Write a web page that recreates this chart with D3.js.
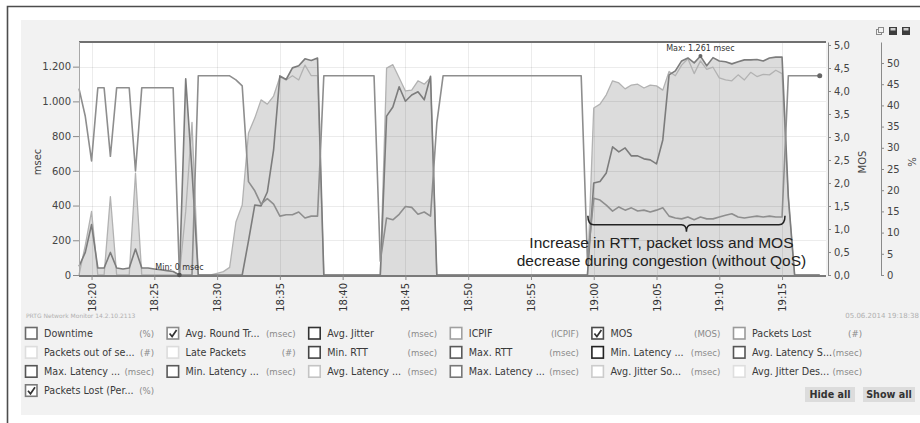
<!DOCTYPE html>
<html>
<head>
<meta charset="utf-8">
<script src="https://cdn.jsdelivr.net/npm/d3@7"></script>
<style>
  html, body { margin: 0; padding: 0; background: #fff; }
  svg { display: block; font-family: "DejaVu Sans", Verdana, sans-serif; }
</style>
</head>
<body>
<svg id="chart" width="920" height="423"></svg>
<script>
// ---- QoS sensor samples, one every 30 seconds from 18:19:00 ----
const startTime = "2014-06-05T18:19:00";
const endTime = "2014-06-05T19:18:30";
const sampleSeconds = 30;

const timeTickLabels = ["18:20", "18:25", "18:30", "18:35", "18:40", "18:45",
                        "18:50", "18:55", "19:00", "19:05", "19:10", "19:15"];
const msecTicks = [0, 200, 400, 600, 800, 1000, 1200];
const mosTicks = [0, 0.5, 1, 1.5, 2, 2.5, 3, 3.5, 4, 4.5, 5];
const pctTicks = [0, 5, 10, 15, 20, 25, 30, 35, 40, 45, 50];

// Avg. Round Trip (msec)
const rttValues = [
  50, 130, 290, 40, 40, 130, 40, 35, 40, 150,
  40, 40, 35, 30, 25, 20, 0, 1130, 600, 0,
  0, 0, 0, 0, 0, 0, 0, 196, 403, 398,
  478, 720, 1147, 1126, 1193, 1205, 1245, 1236, 1250,
  0, 0, 0, 0, 0, 0, 0, 0, 0, 0,
  915, 968, 1084, 1001, 1037, 1055, 1009, 1145,
  0, 0, 0, 0, 0, 0, 0, 0, 0, 0, 0, 0, 0, 0, 0, 0, 0, 0, 0, 0, 0, 0, 0, 0, 0,
  530, 539, 588, 738, 709, 732, 686, 686, 669, 663, 640, 778,
  1153, 1176, 1233, 1250, 1222, 1261, 1205, 1252, 1233, 1228,
  1216, 1228, 1239, 1239, 1241, 1233, 1250, 1255, 1255, 450,
  0, 0, 0, 0, 0
];

// MOS
const mosValues = [
  4.05, 3.45, 2.48, 4.07, 4.07, 2.58, 4.07, 4.07, 4.07, 2.26,
  4.07, 4.07, 4.07, 4.07, 4.07, 4.07, 0, 0, 0, 4.33,
  4.33, 4.33, 4.33, 4.33, 4.33, 4.24, 4.11, 2.03, 1.83, 1.54,
  1.66, 1.54, 1.28, 1.31, 1.31, 1.37, 1.24, 1.28, 1.28,
  4.33, 4.33, 4.33, 4.33, 4.33, 4.33, 4.33, 4.33, 4.33,
  0.3, 1.24, 1.2, 1.32, 1.49, 1.47, 1.32, 1.37, 1.28, 3.3,
  4.33, 4.33, 4.33, 4.33, 4.33, 4.33, 4.33, 4.33, 4.33, 4.33, 4.33, 4.33,
  4.33, 4.33, 4.33, 4.33, 4.33, 4.33, 4.33, 4.33, 4.33, 4.33, 4.33,
  0.3, 1.67, 1.63, 1.52, 1.39, 1.48, 1.41, 1.46, 1.39, 1.41, 1.37, 1.41, 1.46,
  1.28, 1.24, 1.22, 1.26, 1.2, 1.26, 1.22, 1.22, 1.26, 1.3,
  1.33, 1.26, 1.24, 1.26, 1.28, 1.26, 1.28, 1.26, 1.26, 4.33,
  4.33, 4.33, 4.33, 4.33, 4.33
];

// Packets Lost (%)
const lossValues = [
  0, 7, 15, 0, 0, 18.5, 0, 0, 0, 24,
  0, 0, 0, 0, 0, 0, 0,
  15, 36, 0, 0, 0, 0.4, 0.8, 1.8, 12.5, 16.5, 33.5, 37, 41.3,
  40.3, 42.2, 46.7, 46, 47, 46, 49.5, 47, 47,
  0, 0, 0, 0, 0, 0, 0, 0, 0, 0,
  48.8, 49.6, 46.5, 43.4, 43.6, 45.8, 45, 46.5,
  0, 0, 0, 0, 0, 0, 0, 0, 0, 0, 0, 0, 0, 0, 0, 0, 0, 0, 0, 0, 0, 0, 0, 0, 0,
  39.4, 40.3, 42.5, 45.8, 45.3, 43.9, 44.8, 45, 44.1, 44.8, 44.6, 43.6,
  48, 47, 49.5, 51, 47.5, 50.5, 48.5, 49, 46.5, 46,
  45.8, 47.2, 46, 47.8, 46.8, 47.3, 47.2, 48.3, 47.5, 18,
  0, 0, 0, 0, 0
];

// Channel list shown under the graph
const channelNames = [
  "Downtime", "Avg. Round Tr...", "Avg. Jitter", "ICPIF", "MOS", "Packets Lost",
  "Packets out of se...", "Late Packets", "Min. RTT", "Max. RTT", "Min. Latency ...", "Avg. Latency S...",
  "Max. Latency ...", "Min. Latency ...", "Avg. Latency ...", "Max. Latency ...", "Avg. Jitter So...", "Avg. Jitter Des...",
  "Packets Lost (Per..."
];
const channelUnits = [
  "(%)", "(msec)", "(msec)", "(ICPIF)", "(MOS)", "(#)",
  "(#)", "(#)", "(msec)", "(msec)", "(msec)", "(msec)",
  "(msec)", "(msec)", "(msec)", "(msec)", "(msec)", "(msec)",
  "(%)"
];
const channelShown = [
  false, true, false, false, true, false,
  false, false, false, false, false, false,
  false, false, false, false, false, false,
  true
];
const channelColors = [
  "#6a6a6a", "#8a8a8a", "#333333", "#a0a0a0", "#4a4a4a", "#9a9a9a",
  "#dddddd", "#dcdcdc", "#454545", "#5a5a5a", "#222222", "#555555",
  "#555555", "#5a5a5a", "#c4c4c4", "#777777", "#cccccc", "#dedede",
  "#7a7a7a"
];

const annotationLines = ["Increase in RTT, packet loss and MOS",
                         "decrease during congestion (without QoS)"];
const congestionFrom = "2014-06-05T18:59:32";
const congestionTo = "2014-06-05T19:15:14";

// ---- drawing ----
const W = 920, H = 423;
const svg = d3.select("#chart");
const plot = { left: 79, right: 826, top: 42, bottom: 275 };
const de = d3.formatLocale({ decimal: ",", thousands: ".", grouping: [3], currency: ["", "€"] });
const fmtInt = de.format(",d");
const fmt1 = de.format(".1f");

svg.append("rect").attr("width", W).attr("height", H).attr("fill", "#fff");
svg.append("rect").attr("x", 21).attr("y", 20).attr("width", W - 21).attr("height", 395)
  .attr("fill", "#f2f2f2");
svg.append("path").attr("d", "M7.5,423V6.5H920").attr("fill", "none")
  .attr("stroke", "#4d4d4d").attr("stroke-width", 1.6);

svg.append("rect").attr("x", plot.left).attr("y", plot.top)
  .attr("width", plot.right - plot.left).attr("height", plot.bottom - plot.top)
  .attr("fill", "#fff");

const x = d3.scaleTime()
  .domain([new Date(startTime), new Date(endTime)])
  .range([plot.left, plot.right]);
const yMs = d3.scaleLinear().domain([0, 1342]).range([plot.bottom, plot.top]);
const yMos = d3.scaleLinear().domain([0, 5.065]).range([plot.bottom, plot.top]);
const yPct = d3.scaleLinear().domain([0, 54.95]).range([plot.bottom, plot.top]);

const t0 = new Date(startTime).getTime();
const times = rttValues.map((_, i) => new Date(t0 + i * sampleSeconds * 1000));
const tickTimes = timeTickLabels.map(s => new Date("2014-06-05T" + s + ":00"));

// filled channels: packet loss and round trip share one tone
const fillTone = "#dcdcdc";
const lossArea = d3.area().x((d, i) => x(times[i])).y0(plot.bottom).y1(d => yPct(d));
const rttArea = d3.area().x((d, i) => x(times[i])).y0(plot.bottom).y1(d => yMs(d));
svg.append("path").datum(lossValues).attr("d", lossArea).attr("fill", fillTone);
svg.append("path").datum(rttValues).attr("d", rttArea).attr("fill", fillTone);

// grid, drawn over the fills so it stays faintly visible
const grid = svg.append("g").attr("stroke", "#000").attr("stroke-opacity", 0.075).attr("stroke-width", 1);
grid.selectAll("line.h").data(msecTicks.filter(v => v > 0)).join("line")
  .attr("x1", plot.left).attr("x2", plot.right)
  .attr("y1", d => Math.round(yMs(d)) + 0.5).attr("y2", d => Math.round(yMs(d)) + 0.5);
grid.selectAll("line.v").data(tickTimes).join("line")
  .attr("y1", plot.top).attr("y2", plot.bottom)
  .attr("x1", d => Math.round(x(d)) + 0.5).attr("x2", d => Math.round(x(d)) + 0.5);

// channel lines
const lossLine = d3.line().x((d, i) => x(times[i])).y(d => yPct(d));
const rttLine = d3.line().x((d, i) => x(times[i])).y(d => yMs(d));
const mosLine = d3.line().x((d, i) => x(times[i])).y(d => yMos(d));
svg.append("path").datum(lossValues).attr("d", lossLine)
  .attr("fill", "none").attr("stroke", "#b2b2b2").attr("stroke-width", 1.3)
  .attr("stroke-linejoin", "round");
svg.append("path").datum(rttValues).attr("d", rttLine)
  .attr("fill", "none").attr("stroke", "#7c7c7c").attr("stroke-width", 1.6)
  .attr("stroke-linejoin", "round");
svg.append("path").datum(mosValues).attr("d", mosLine)
  .attr("fill", "none").attr("stroke", "#8e8e8e").attr("stroke-width", 1.6)
  .attr("stroke-linejoin", "round");

// frame
svg.append("line").attr("x1", plot.left).attr("x2", plot.right)
  .attr("y1", plot.top).attr("y2", plot.top).attr("stroke", "#707070").attr("stroke-width", 2);
svg.append("line").attr("x1", plot.left + 0.5).attr("x2", plot.left + 0.5)
  .attr("y1", plot.top).attr("y2", plot.bottom).attr("stroke", "#a8a8a8").attr("stroke-width", 1);
svg.append("line").attr("x1", plot.left).attr("x2", plot.right)
  .attr("y1", plot.bottom + 1).attr("y2", plot.bottom + 1).attr("stroke", "#7a7a7a").attr("stroke-width", 2);

// axes
function styleAxis(g) {
  g.selectAll(".domain").attr("stroke", "#8a8a8a");
  g.selectAll(".tick line").attr("stroke", "#8a8a8a");
  g.selectAll("text").attr("fill", "#444").attr("font-size", 10)
    .attr("font-family", "DejaVu Sans, Verdana, sans-serif");
}
const axL = svg.append("g").attr("transform", `translate(${plot.left},0)`)
  .call(d3.axisLeft(yMs).tickValues(msecTicks).tickSize(6).tickSizeOuter(0).tickPadding(2)
    .tickFormat(d => fmtInt(d)));
axL.select(".domain").remove();
styleAxis(axL);

const axM = svg.append("g").attr("transform", "translate(828,0)")
  .call(d3.axisRight(yMos).tickValues(mosTicks).tickSize(3).tickSizeOuter(0).tickPadding(3)
    .tickFormat(d => fmt1(d)));
styleAxis(axM);

const axP = svg.append("g").attr("transform", "translate(881,0)")
  .call(d3.axisRight(yPct).tickValues(pctTicks).tickSize(3).tickSizeOuter(0).tickPadding(3)
    .tickFormat(d => String(d)));
styleAxis(axP);

const axB = svg.append("g").attr("transform", `translate(0,${plot.bottom})`)
  .call(d3.axisBottom(x).tickValues(tickTimes).tickSize(5).tickSizeOuter(0)
    .tickFormat((d, i) => timeTickLabels[i]));
axB.select(".domain").remove();
styleAxis(axB);
axB.selectAll("text").attr("transform", "rotate(-90)").attr("text-anchor", "end")
  .attr("x", -8).attr("y", 0).attr("dy", "0.35em").attr("fill", "#333");

// axis titles
function vTitle(txt, cx, cy) {
  svg.append("text").attr("transform", `translate(${cx},${cy}) rotate(-90)`)
    .attr("text-anchor", "middle").attr("dy", "0.35em")
    .attr("font-size", 10).attr("fill", "#444").text(txt);
}
vTitle("msec", 37, 162);
vTitle("MOS", 862, 162);
vTitle("%", 912, 162);

// min / max markers on the RTT channel
const iMin = d3.minIndex(rttValues), iMax = d3.maxIndex(rttValues);
const minPt = [x(times[iMin]), yMs(rttValues[iMin])];
const maxPt = [x(times[iMax]), yMs(rttValues[iMax])];
svg.append("circle").attr("cx", minPt[0]).attr("cy", minPt[1]).attr("r", 2.3).attr("fill", "#555");
svg.append("circle").attr("cx", maxPt[0]).attr("cy", maxPt[1]).attr("r", 2).attr("fill", "#666");
svg.append("text").attr("x", minPt[0]).attr("y", minPt[1] - 5).attr("text-anchor", "middle")
  .attr("font-size", 8).attr("fill", "#333").text("Min: " + fmtInt(rttValues[iMin]) + " msec");
svg.append("text").attr("x", maxPt[0]).attr("y", maxPt[1] - 5).attr("text-anchor", "middle")
  .attr("font-size", 8).attr("fill", "#333").text("Max: " + fmtInt(rttValues[iMax]) + " msec");

// last MOS sample
const last = mosValues.length - 1;
svg.append("circle").attr("cx", x(times[last])).attr("cy", yMos(mosValues[last]))
  .attr("r", 2.5).attr("fill", "#666");

// congestion brace and note
const bx0 = x(new Date(congestionFrom)), bx1 = x(new Date(congestionTo));
const bxm = (bx0 + bx1) / 2, by = yMos(1.09);
svg.append("path")
  .attr("d", `M${bx0},${by - 9} Q${bx0},${by} ${bx0 + 6},${by} L${bxm - 5},${by} Q${bxm},${by} ${bxm},${by + 7} ` +
             `Q${bxm},${by} ${bxm + 5},${by} L${bx1 - 6},${by} Q${bx1},${by} ${bx1},${by - 9}`)
  .attr("fill", "none").attr("stroke", "#222").attr("stroke-width", 1.5);
const note = svg.append("text").attr("font-family", "Liberation Sans, Arial, sans-serif")
  .attr("font-size", 15.5).attr("fill", "#222").attr("text-anchor", "middle");
annotationLines.forEach((s, i) => {
  note.append("tspan").attr("x", bxm - 25).attr("y", 248 + i * 18).text(s);
});

// footer stamps
svg.append("text").attr("x", 26).attr("y", 318).attr("font-size", 6).attr("fill", "#b0b0b0")
  .text("PRTG Network Monitor 14.2.10.2113");
svg.append("text").attr("x", 919).attr("y", 318).attr("font-size", 7).attr("fill", "#b0b0b0")
  .attr("text-anchor", "end").text("05.06.2014 19:18:38");

// toolbar icons
const ic = svg.append("g");
ic.append("rect").attr("x", 876.5).attr("y", 29.5).attr("width", 5).attr("height", 5)
  .attr("fill", "none").attr("stroke", "#8a8a8a");
ic.append("rect").attr("x", 878.5).attr("y", 27.5).attr("width", 5).attr("height", 5)
  .attr("fill", "#f2f2f2").attr("stroke", "#8a8a8a");
[889, 902].forEach(px => {
  ic.append("rect").attr("x", px).attr("y", 27).attr("width", 8).attr("height", 8).attr("fill", "#3d3d3d");
  ic.append("rect").attr("x", px + 1.5).attr("y", 28).attr("width", 5).attr("height", 2.5).attr("fill", "#cfcfcf");
});

// channel checkboxes
const leg = svg.append("g");
channelNames.forEach((name, k) => {
  const col = k % 6, row = Math.floor(k / 6);
  const cx = 25 + col * 141.6, cy = 333.5 + row * 19.1;
  const g = leg.append("g");
  g.append("rect").attr("x", cx + 0.5).attr("y", cy - 6).attr("width", 11.5).attr("height", 11.5)
    .attr("fill", "#fff").attr("stroke", channelColors[k]).attr("stroke-width", 1.6);
  if (channelShown[k]) {
    g.append("path").attr("d", `M${cx + 3},${cy} L${cx + 5.5},${cy + 3} L${cx + 10},${cy - 3.5}`)
      .attr("fill", "none").attr("stroke", "#333").attr("stroke-width", 1.7);
  }
  g.append("text").attr("x", cx + 19).attr("y", cy + 3.6).attr("font-size", 9.6)
    .attr("fill", "#3a3a3a").text(name);
  g.append("text").attr("x", cx + 129).attr("y", cy + 3.4).attr("font-size", 8.6)
    .attr("fill", "#8a8a8a").attr("text-anchor", "end").text(channelUnits[k]);
});

// buttons
[["Hide all", 805, 50], ["Show all", 863, 52]].forEach(([label, bx, bw]) => {
  svg.append("rect").attr("x", bx).attr("y", 387).attr("width", bw).attr("height", 15).attr("fill", "#dcdcdc");
  svg.append("text").attr("x", bx + bw / 2).attr("y", 398).attr("text-anchor", "middle")
    .attr("font-size", 9.6).attr("font-weight", "bold").attr("fill", "#333").text(label);
});
</script>
</body>
</html>
